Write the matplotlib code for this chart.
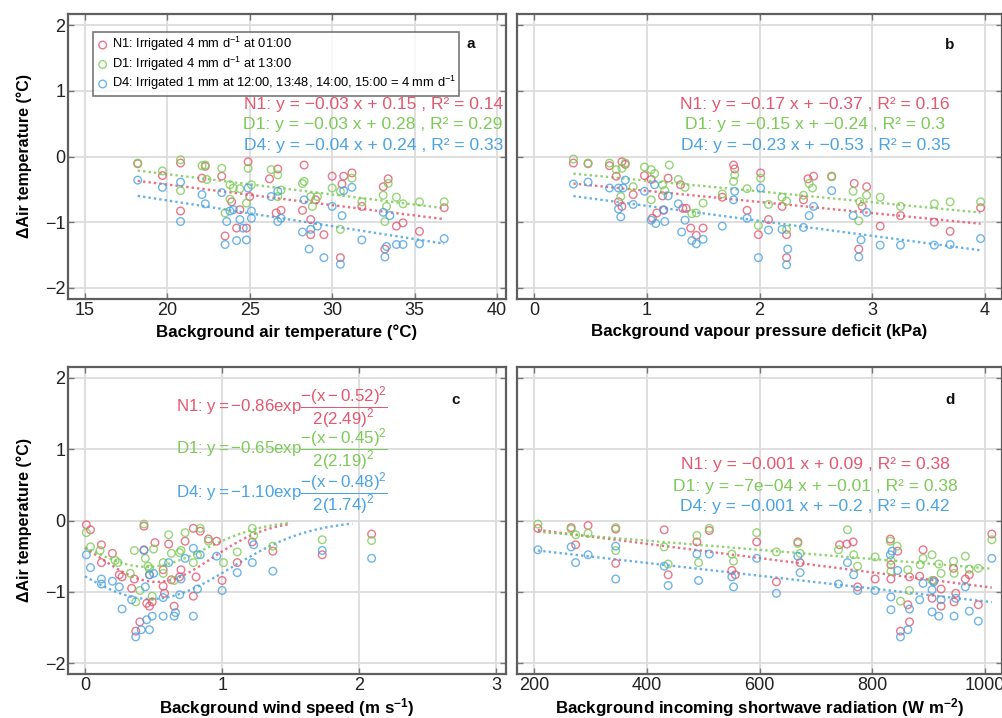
import numpy as np
import matplotlib
matplotlib.use("Agg")
import matplotlib.pyplot as plt

plt.rcParams['font.family'] = ['Liberation Sans', 'DejaVu Sans']
plt.rcParams['mathtext.fontset'] = 'custom'
plt.rcParams['mathtext.rm'] = 'Liberation Sans'
plt.rcParams['mathtext.it'] = 'Liberation Sans'
plt.rcParams['mathtext.bf'] = 'Liberation Sans:bold'

# ---------------- data ----------------
series_names = ["N1", "D1", "D4"]
legend_labels = [r"N1: Irrigated 4 mm d$^{-1}$ at 01:00",
                 r"D1: Irrigated 4 mm d$^{-1}$ at 13:00",
                 r"D4: Irrigated 1 mm at 12:00, 13:48, 14:00, 15:00 = 4 mm d$^{-1}$"]
colors = ["#E4576F", "#7CCB56", "#4AA3E3"]

# Panel a: background air temperature (°C)
a_n1_x = [18.2,19.7,20.8,20.8,22.1,22.3,23.3,23.5,23.9,24.4,24.2,24.8,24.9,25.0,26.2,26.6,26.9,26.7,28.3,28.2,28.7,28.7,29.0,29.5,30.0,30.6,30.7,31.2,30.5,31.8,33.1,33.4,33.2,33.9,34.3,35.3,36.8]
a_n1_y = [-0.11,-0.29,-0.10,-0.83,-0.33,-0.15,-0.30,-1.21,-0.69,-0.81,-1.09,-1.09,-0.08,-0.61,-0.34,-0.86,-0.82,-0.19,-0.13,-0.82,-0.96,-1.19,-0.66,-1.19,-0.30,-0.42,-0.30,-0.25,-1.54,-0.76,-0.46,-0.34,-1.41,-1.06,-1.01,-1.14,-0.78]
a_d1_x = [18.2,19.7,20.8,20.8,22.1,22.3,22.4,23.3,23.8,24.0,24.4,23.5,23.8,24.8,24.9,25.1,26.3,26.7,26.9,26.7,28.2,28.3,28.7,28.8,29.1,30.0,30.5,30.5,31.2,31.8,33.1,33.2,33.4,33.3,33.9,34.3,35.3,36.8]
a_d1_y = [-0.10,-0.22,-0.05,-0.52,-0.14,-0.13,-0.35,-0.18,-0.43,-0.48,-0.49,-0.86,-0.65,-0.71,-0.18,-0.43,-0.20,-0.28,-0.51,-0.61,-0.41,-0.38,-0.61,-0.76,-0.61,-0.48,-0.53,-1.11,-0.33,-0.69,-0.59,-0.99,-0.41,-0.76,-0.62,-0.72,-0.69,-0.69]
a_d4_x = [18.2,19.7,20.8,20.8,22.1,22.3,23.3,23.5,23.6,23.8,24.0,24.2,24.4,24.6,24.8,24.9,25.1,25.1,26.3,26.7,26.7,26.9,28.2,28.3,28.6,28.7,29.1,29.5,30.0,30.6,30.7,30.5,31.2,31.8,33.1,33.2,33.3,33.5,33.9,34.3,35.3,36.8]
a_d4_y = [-0.36,-0.47,-0.39,-0.99,-0.58,-0.72,-0.55,-1.34,-0.99,-0.83,-0.81,-1.28,-0.96,-1.09,-1.27,-0.48,-0.83,-0.94,-0.61,-0.53,-0.99,-0.94,-1.15,-0.66,-1.41,-1.11,-1.06,-1.54,-0.76,-0.90,-0.52,-1.64,-0.47,-1.27,-0.85,-1.53,-1.37,-0.90,-1.34,-1.34,-1.33,-1.25]

# Panel b: background vapour pressure deficit (kPa)
b_n1_x = [0.35,0.48,0.67,0.73,0.78,0.81,0.75,0.78,0.88,0.98,1.04,1.05,1.09,1.15,1.14,1.19,1.30,1.32,1.35,1.39,1.44,1.50,1.67,1.77,1.78,1.89,1.99,2.01,2.08,2.20,2.24,2.24,2.39,2.43,2.48,2.64,2.84,2.95,2.91,2.88,3.07,3.25,3.55,3.69,3.96]
b_n1_y = [-0.10,-0.11,-0.14,-0.30,-0.08,-0.12,-0.69,-0.76,-0.58,-0.29,-0.35,-0.94,-0.86,-0.82,-0.60,-0.33,-0.43,-0.79,-0.79,-1.09,-1.20,-1.09,-0.62,-0.13,-0.19,-0.82,-1.19,-0.25,-0.96,-0.76,-1.19,-1.54,-0.66,-0.34,-0.30,-0.30,-0.41,-0.46,-0.76,-1.41,-1.06,-0.90,-1.00,-1.14,-0.78]
b_d1_x = [0.35,0.48,0.67,0.73,0.78,0.81,0.77,0.88,0.98,1.04,1.07,1.04,1.14,1.16,1.20,1.28,1.34,1.40,1.44,1.50,1.67,1.77,1.78,1.89,1.99,2.01,2.08,2.20,2.24,2.24,2.39,2.44,2.47,2.64,2.83,2.89,2.88,2.95,3.07,3.25,3.55,3.69,3.96]
b_d1_y = [-0.04,-0.10,-0.10,-0.20,-0.18,-0.10,-0.61,-0.46,-0.16,-0.20,-0.26,-0.66,-0.43,-0.52,-0.13,-0.35,-0.47,-0.87,-0.86,-0.71,-0.57,-0.38,-0.28,-0.49,-1.05,-0.33,-0.73,-0.62,-1.11,-0.68,-0.59,-0.41,-0.48,-0.31,-0.53,-0.69,-0.98,-0.59,-0.62,-0.76,-0.72,-0.69,-0.69]
b_d4_x = [0.35,0.48,0.67,0.75,0.79,0.81,0.75,0.77,0.88,0.98,1.04,1.07,1.08,1.16,1.15,1.19,1.28,1.34,1.31,1.40,1.44,1.50,1.67,1.78,1.77,1.89,1.99,2.01,2.08,2.20,2.25,2.24,2.39,2.44,2.48,2.64,2.83,2.90,2.88,2.95,3.07,3.25,3.55,3.69,3.96]
b_d4_y = [-0.42,-0.39,-0.48,-0.48,-0.48,-0.36,-0.80,-0.92,-0.73,-0.53,-0.97,-0.43,-1.02,-0.99,-0.81,-0.60,-0.72,-0.97,-1.15,-1.28,-1.33,-1.26,-1.06,-0.53,-0.66,-0.94,-1.54,-0.48,-1.12,-1.11,-1.41,-1.65,-1.08,-0.90,-0.76,-0.52,-0.90,-1.27,-1.53,-0.85,-1.35,-1.35,-1.35,-1.34,-1.25]

# Panel c: background wind speed (m s-1)
c_n1_x = [0.01,0.04,0.12,0.12,0.20,0.25,0.27,0.34,0.36,0.37,0.40,0.43,0.43,0.45,0.47,0.49,0.47,0.51,0.57,0.57,0.58,0.61,0.63,0.65,0.69,0.70,0.73,0.79,0.79,0.81,0.84,0.90,0.96,1.00,1.11,1.22,1.37,1.73,2.09]
c_n1_y = [-0.06,-0.13,-0.34,-0.59,-0.46,-0.76,-0.79,-0.95,-0.82,-1.55,-1.42,-0.08,-0.41,-1.16,-1.20,-1.14,-0.76,-0.31,-0.69,-0.92,-1.02,-0.33,-0.83,-1.20,-0.79,-0.69,-0.29,-0.11,-1.06,-0.79,-0.15,-0.26,-0.29,-0.84,-0.59,-0.30,-0.43,-0.48,-0.19]
c_d1_x = [0.01,0.04,0.11,0.22,0.24,0.36,0.33,0.37,0.40,0.43,0.44,0.46,0.47,0.49,0.50,0.57,0.57,0.61,0.63,0.65,0.69,0.70,0.73,0.79,0.82,0.84,0.90,1.01,1.11,1.22,1.23,1.37,1.73,2.09]
c_d1_y = [-0.17,-0.37,-0.42,-0.56,-0.59,-0.42,-0.74,-1.14,-0.98,-0.05,-0.53,-0.64,-0.68,-1.06,-0.40,-0.74,-0.59,-0.20,-0.46,-0.84,-0.45,-0.42,-0.17,-0.59,-0.48,-0.11,-0.29,-0.59,-0.44,-0.11,-0.21,-0.36,-0.27,-0.28]
c_d4_x = [0.01,0.04,0.12,0.12,0.20,0.25,0.27,0.34,0.37,0.41,0.43,0.44,0.45,0.47,0.49,0.47,0.50,0.57,0.57,0.61,0.65,0.66,0.69,0.70,0.73,0.79,0.79,0.82,0.84,0.96,1.00,1.11,1.22,1.23,1.37,1.73,2.09]
c_d4_y = [-0.48,-0.66,-0.82,-0.89,-0.85,-0.93,-1.24,-1.11,-1.63,-1.53,-0.42,-0.93,-1.39,-1.53,-1.34,-0.76,-0.74,-1.08,-1.34,-0.59,-1.34,-1.29,-1.04,-0.82,-0.53,-0.39,-1.34,-0.96,-0.48,-0.50,-0.98,-0.73,-0.59,-0.34,-0.71,-0.42,-0.53]
# Gaussian fit parameters (amplitude, centre, width, end of drawn range)
c_fit_amp = [-0.86, -0.65, -1.10]
c_fit_mu = [0.52, 0.45, 0.48]
c_fit_sigma = [0.41, 0.43, 0.58]
c_fit_xmax = [1.50, 1.50, 1.95]

# Panel d: background incoming shortwave radiation (W m-2)
d_n1_x = [207,266,274,296,345,345,431,438,489,511,551,557,595,630,668,672,742,755,766,774,805,832,833,833,845,850,863,866,866,890,884,906,909,922,922,944,945,948,965,972,988,1012]
d_n1_y = [-0.11,-0.10,-0.34,-0.07,-0.12,-0.60,-0.13,-0.76,-0.30,-0.14,-0.70,-0.76,-0.30,-0.86,-0.30,-0.59,-0.34,-0.33,-0.30,-0.93,-0.82,-0.26,-0.62,-0.82,-0.43,-1.55,-1.18,-1.42,-0.79,-0.41,-0.78,-1.09,-0.84,-1.20,-0.96,-0.67,-1.14,-1.02,-0.82,-0.76,-1.18,-0.19]
d_d1_x = [207,266,274,296,345,345,431,438,489,492,511,551,554,595,630,668,672,740,756,767,774,805,832,833,833,844,850,863,866,885,890,906,906,918,922,944,945,965,972,988,1012]
d_d1_y = [-0.05,-0.12,-0.20,-0.18,-0.10,-0.42,-0.37,-0.61,-0.21,-0.59,-0.11,-0.47,-0.57,-0.17,-0.44,-0.32,-0.46,-0.41,-0.13,-0.48,-0.64,-0.51,-0.29,-0.56,-0.71,-0.36,-1.13,-0.69,-0.98,-0.62,-0.53,-0.48,-0.84,-0.61,-0.74,-0.57,-0.74,-0.50,-0.68,-0.67,-0.27]
d_d4_x = [207,266,274,296,345,345,431,438,489,492,511,551,554,595,630,668,672,740,756,767,774,805,832,833,833,835,845,850,863,866,884,890,906,906,909,918,922,945,948,965,972,988,1012]
d_d4_y = [-0.41,-0.37,-0.59,-0.48,-0.36,-0.82,-0.64,-0.91,-0.47,-0.84,-0.47,-0.79,-0.93,-0.53,-1.02,-0.50,-0.73,-0.89,-0.59,-0.76,-0.98,-0.98,-0.48,-1.07,-1.25,-0.43,-0.70,-1.63,-1.53,-1.24,-1.11,-0.88,-0.97,-1.28,-0.86,-1.34,-1.11,-1.34,-1.09,-0.93,-1.27,-1.41,-0.53]

eq_a = ["N1: y = \u22120.03 x + 0.15 , R\u00b2 = 0.14",
        "D1: y = \u22120.03 x + 0.28 , R\u00b2 = 0.29",
        "D4: y = \u22120.04 x + 0.24 , R\u00b2 = 0.33"]
eq_b = ["N1: y = \u22120.17 x + \u22120.37 , R\u00b2 = 0.16",
        "D1: y = \u22120.15 x + \u22120.24 , R\u00b2 = 0.3",
        "D4: y = \u22120.23 x + \u22120.53 , R\u00b2 = 0.35"]
eq_c = [r"N1: $\mathrm{y = -0.86exp}\dfrac{\mathrm{-(x-0.52)^2}}{\mathrm{2(2.49)^2}}$",
        r"D1: $\mathrm{y = -0.65exp}\dfrac{\mathrm{-(x-0.45)^2}}{\mathrm{2(2.19)^2}}$",
        r"D4: $\mathrm{y = -1.10exp}\dfrac{\mathrm{-(x-0.48)^2}}{\mathrm{2(1.74)^2}}$"]
eq_d = ["N1: y = \u22120.001 x + 0.09 , R\u00b2 = 0.38",
        "D1: y = \u22127e\u221204 x + \u22120.01 , R\u00b2 = 0.38",
        "D4: y = \u22120.001 x + \u22120.2 , R\u00b2 = 0.42"]

xlabels = ["Background air temperature (\u00b0C)",
           "Background vapour pressure deficit (kPa)",
           r"Background wind speed (m s$^{\mathbf{-1}}$)",
           r"Background incoming shortwave radiation (W m$^{\mathbf{-2}}$)"]
ylabel = "\u0394Air temperature (\u00b0C)"
panel_letters = ["a", "b", "c", "d"]

# ---------------- figure ----------------
fig = plt.figure(figsize=(10.03, 7.18), dpi=100)
W, H = 1003.0, 718.0
def ax_at(l, t, r, b):
    return fig.add_axes([l / W, 1 - b / H, (r - l) / W, (b - t) / H])

ax_a = ax_at(68, 14, 506, 299)
ax_b = ax_at(517, 14, 1002, 299)
ax_c = ax_at(68, 367, 506, 674)
ax_d = ax_at(517, 367, 1002, 674)
axes = [ax_a, ax_b, ax_c, ax_d]

xlims = [(13.97, 40.55), (-0.15, 4.15), (-0.124, 3.07), (170, 1030)]
xticks = [[15, 20, 25, 30, 35, 40], [0, 1, 2, 3, 4], [0, 1, 2, 3], [200, 400, 600, 800, 1000]]
ylims = [(-2.17, 2.17), (-2.17, 2.17), (-2.15, 2.15), (-2.15, 2.15)]

data = [
    [(a_n1_x, a_n1_y), (a_d1_x, a_d1_y), (a_d4_x, a_d4_y)],
    [(b_n1_x, b_n1_y), (b_d1_x, b_d1_y), (b_d4_x, b_d4_y)],
    [(c_n1_x, c_n1_y), (c_d1_x, c_d1_y), (c_d4_x, c_d4_y)],
    [(d_n1_x, d_n1_y), (d_d1_x, d_d1_y), (d_d4_x, d_d4_y)],
]

for i, ax in enumerate(axes):
    ax.set_xlim(*xlims[i])
    ax.set_ylim(*ylims[i])
    ax.set_xticks(xticks[i])
    ax.set_yticks([-2, -1, 0, 1, 2])
    ax.grid(True, color="#DCDCDC", linewidth=1.3, zorder=0)
    ax.set_axisbelow(True)
    for sp in ax.spines.values():
        sp.set_color("#5E5E5E")
        sp.set_linewidth(1.6)
    ax.tick_params(direction="in", top=True, right=True, length=4, width=1,
                   color="#777777", labelsize=13, pad=2, labelcolor="#222222")
    ax.set_xlabel(xlabels[i], fontsize=12.2, fontweight="bold",
                  labelpad=4 if i < 2 else 2)
    if i in (0, 2):
        ax.set_ylabel(ylabel, fontsize=11.5, fontweight="bold", labelpad=9)
    else:
        ax.tick_params(labelleft=False)
    for k, (xs, ys) in enumerate(data[i]):
        ax.scatter(xs, ys, s=30, facecolors="none", edgecolors=colors[k],
                   linewidths=1.0, alpha=0.8, zorder=3,
                   label=legend_labels[k] if i == 0 else None)
        if i != 2:
            xs_a = np.asarray(xs, float)
            ys_a = np.asarray(ys, float)
            p = np.polyfit(xs_a, ys_a, 1)
            xx = np.linspace(xs_a.min(), xs_a.max(), 50)
            ax.plot(xx, np.polyval(p, xx), color=colors[k], lw=1.7,
                    linestyle=(0, (1, 1.3)), alpha=0.85, zorder=2)
        else:
            xx = np.linspace(0, c_fit_xmax[k], 100)
            yy = c_fit_amp[k] * np.exp(-(xx - c_fit_mu[k]) ** 2 / (2 * c_fit_sigma[k] ** 2))
            ax.plot(xx, yy, color=colors[k], lw=1.7,
                    linestyle=(0, (1, 1.3)), alpha=0.85, zorder=2)

# equations
for k in range(3):
    ax_a.text(0.993, [0.684, 0.614, 0.540][k], eq_a[k], transform=ax_a.transAxes,
              ha="right", va="center", fontsize=12.6, color=colors[k])
    ax_b.text(0.615, [0.684, 0.614, 0.540][k], eq_b[k], transform=ax_b.transAxes,
              ha="center", va="center", fontsize=12.6, color=colors[k])
    ax_c.text(0.247, [0.870, 0.733, 0.591][k], eq_c[k], transform=ax_c.transAxes,
              ha="left", va="center", fontsize=12.2, color=colors[k])
    ax_d.text(0.615, [0.684, 0.612, 0.544][k], eq_d[k], transform=ax_d.transAxes,
              ha="center", va="center", fontsize=12.6, color=colors[k])

# panel letters
letter_pos = [(0.920, 0.895), (0.893, 0.891), (0.884, 0.893), (0.893, 0.893)]
for ax, lt, (px, py) in zip(axes, panel_letters, letter_pos):
    ax.text(px, py, lt, transform=ax.transAxes, ha="center", va="center",
            fontsize=11, fontweight="bold", color="#111111")

leg = ax_a.legend(loc="upper left", bbox_to_anchor=(0.057, 0.937), fontsize=9.3,
                  frameon=True, fancybox=False, edgecolor="#555555",
                  handletextpad=0.2, borderpad=0.25, labelspacing=0.1,
                  handlelength=1.0, borderaxespad=0)
leg.get_frame().set_linewidth(1.2)

fig.savefig("out.png", dpi=100)
